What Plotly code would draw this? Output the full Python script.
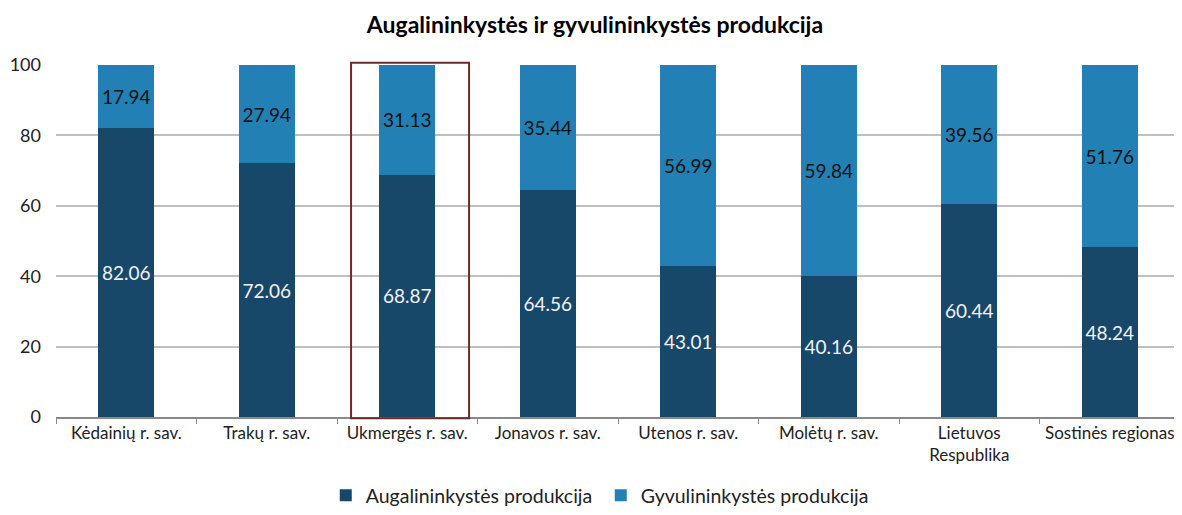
import plotly.graph_objects as go

categories = ["Kėdainių r. sav.", "Trakų r. sav.", "Ukmergės r. sav.", "Jonavos r. sav.",
              "Utenos r. sav.", "Molėtų r. sav.", "Lietuvos<br>Respublika", "Sostinės regionas"]
augalininkyste = [82.06, 72.06, 68.87, 64.56, 43.01, 40.16, 60.44, 48.24]
gyvulininkyste = [17.94, 27.94, 31.13, 35.44, 56.99, 59.84, 39.56, 51.76]
y_ticks = [0, 20, 40, 60, 80, 100]
highlight_index = 2

FONT = "Lato"
fig = go.Figure()
fig.add_trace(go.Bar(
    x=categories, y=augalininkyste, name="Augalininkystės produkcija",
    marker=dict(color="#17486a", line=dict(width=0)), width=0.4,
    text=[f"{v:.2f}" for v in augalininkyste], textposition="inside",
    insidetextanchor="middle", textangle=0,
    textfont=dict(family=FONT, size=19, color="#f2f2f2"),
))
fig.add_trace(go.Bar(
    x=categories, y=gyvulininkyste, name="Gyvulininkystės produkcija",
    marker=dict(color="#2380b4", line=dict(width=0)), width=0.4,
    text=[f"{v:.2f}" for v in gyvulininkyste], textposition="inside",
    insidetextanchor="middle", textangle=0,
    textfont=dict(family=FONT, size=19, color="#111"),
))

# page body has an 8px margin, so the figure is sized to fit the window
W, H = 1174, 507
ML, MR, MT, MB = 48, 2, 57, 0
plot_bottom = 409  # figure pixels
y_dom0 = (H - MB - plot_bottom) / (H - MT - MB)

n = len(categories)
fig.add_shape(type="rect", xref="paper", yref="paper",
              x0=(highlight_index + 0.5 - 0.40) / n, x1=(highlight_index + 0.5 + 0.44) / n,
              y0=y_dom0 - 0.003, y1=1.005,
              line=dict(color="#6e2a2a", width=2), fillcolor="rgba(0,0,0,0)", layer="above")

fig.update_layout(
    barmode="stack",
    width=W, height=H,
    margin=dict(l=ML, r=MR, t=MT, b=MB),
    paper_bgcolor="white", plot_bgcolor="white",
    title=dict(text="<b>Augalininkystės ir gyvulininkystės produkcija</b>",
               x=0.5, xanchor="center", y=0.966, yanchor="middle",
               font=dict(family=FONT, size=23, color="black")),
    font=dict(family=FONT, size=18, color="#222"),
    showlegend=True,
    legend=dict(orientation="h", x=0.240, xanchor="left", y=0, yanchor="bottom",
                font=dict(family=FONT, size=19.5, color="#222"), traceorder="normal",
                entrywidth=230, entrywidthmode="pixels"),
    uniformtext=dict(minsize=19, mode="show"),
    bargap=0.6,
)
fig.update_yaxes(range=[0, 100], tickvals=y_ticks, showgrid=True, gridcolor="#bfbfbf",
                 gridwidth=1.5, zeroline=False, showline=False, ticks="", automargin=False,
                 domain=[y_dom0, 1],
                 tickfont=dict(family=FONT, size=18, color="#222"), ticklabelstandoff=14)
fig.update_xaxes(showline=True, linecolor="#898989", linewidth=1.5, ticks="outside",
                 tickson="boundaries", ticklen=5, tickcolor="#898989", automargin=False,
                 tickangle=0, tickfont=dict(family=FONT, size=17, color="#222"))

fig.write_html("out.html")
